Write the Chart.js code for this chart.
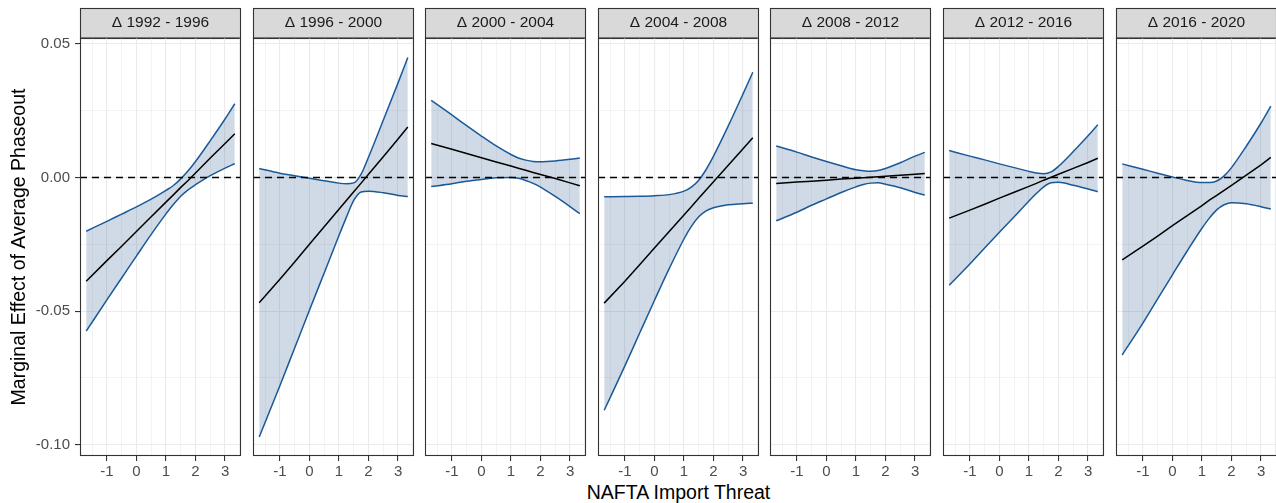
<!DOCTYPE html>
<html>
<head>
<meta charset="utf-8">
<script src="https://cdn.jsdelivr.net/npm/chart.js@4.4.1/dist/chart.umd.min.js"></script>
<style>
html,body{margin:0;padding:0;background:#ffffff;}
#wrap{position:relative;width:1276px;height:503px;overflow:hidden;background:#ffffff;}
#wrap canvas{position:absolute;top:0;}
#xtitle{position:absolute;left:478.5px;width:400px;top:481px;height:23px;line-height:23px;text-align:center;
  font-family:"Liberation Sans", Arial, Helvetica, sans-serif;font-size:19.5px;color:#000000;white-space:nowrap;}
</style>
</head>
<body>
<div id="wrap"><div id="xtitle"></div></div>
<script>
// ---------------- data ----------------
const PANEL_LABELS = ['Δ 1992 - 1996','Δ 1996 - 2000','Δ 2000 - 2004','Δ 2004 - 2008','Δ 2008 - 2012','Δ 2012 - 2016','Δ 2016 - 2020'];
const X_VALUES = [-1.70, -1, -0.5, 0, 0.5, 1, 1.25, 1.5, 1.75, 2, 2.5, 3, 3.33];

const EST_1992   = [-0.0388,-0.0311,-0.0257,-0.0202,-0.0147,-0.0092,-0.0065,-0.0037,-0.0011, 0.0017, 0.0073, 0.0127, 0.0164];
const UPPER_1992 = [-0.0201,-0.0164,-0.0137,-0.0110,-0.0081,-0.0048,-0.0030,-0.0005, 0.0025, 0.0060, 0.0138, 0.0219, 0.0276];
const LOWER_1992 = [-0.0575,-0.0458,-0.0376,-0.0294,-0.0213,-0.0136,-0.0101,-0.0070,-0.0046,-0.0027, 0.0007, 0.0035, 0.0052];

const EST_1996   = [-0.0469,-0.0381,-0.0316,-0.0250,-0.0184,-0.0119,-0.0086,-0.0053,-0.0021, 0.0012, 0.0078, 0.0144, 0.0189];
const UPPER_1996 = [ 0.0034, 0.0016, 0.0007,-0.0003,-0.0012,-0.0021,-0.0023,-0.0020, 0.0013, 0.0076, 0.0214, 0.0354, 0.0449];
const LOWER_1996 = [-0.0971,-0.0779,-0.0638,-0.0497,-0.0357,-0.0217,-0.0149,-0.0086,-0.0054,-0.0051,-0.0057,-0.0067,-0.0071];

const EST_2000   = [ 0.0127, 0.0106, 0.0090, 0.0074, 0.0058, 0.0043, 0.0035, 0.0027, 0.0019, 0.0011,-0.0004,-0.0020,-0.0031];
const UPPER_2000 = [ 0.0289, 0.0234, 0.0194, 0.0155, 0.0118, 0.0086, 0.0073, 0.0065, 0.0060, 0.0059, 0.0062, 0.0068, 0.0073];
const LOWER_2000 = [-0.0034,-0.0023,-0.0014,-0.0007,-0.0001, 0.0000,-0.0003,-0.0011,-0.0022,-0.0036,-0.0071,-0.0109,-0.0135];

const EST_2004   = [-0.0470,-0.0388,-0.0326,-0.0264,-0.0202,-0.0140,-0.0109,-0.0078,-0.0047,-0.0016, 0.0046, 0.0108, 0.0149];
const UPPER_2004 = [-0.0072,-0.0071,-0.0070,-0.0068,-0.0064,-0.0051,-0.0036,-0.0010, 0.0030, 0.0080, 0.0193, 0.0313, 0.0394];
const LOWER_2004 = [-0.0871,-0.0705,-0.0582,-0.0460,-0.0341,-0.0230,-0.0183,-0.0147,-0.0125,-0.0113,-0.0102,-0.0098,-0.0096];

const EST_2008   = [-0.0022,-0.0017,-0.0014,-0.0010,-0.0006,-0.0003,-0.0001, 0.0001, 0.0003, 0.0005, 0.0008, 0.0012, 0.0015];
const UPPER_2008 = [ 0.0118, 0.0095, 0.0077, 0.0060, 0.0044, 0.0029, 0.0025, 0.0023, 0.0026, 0.0034, 0.0055, 0.0080, 0.0094];
const LOWER_2008 = [-0.0162,-0.0130,-0.0104,-0.0080,-0.0056,-0.0035,-0.0026,-0.0021,-0.0020,-0.0025,-0.0038,-0.0056,-0.0066];

const EST_2012   = [-0.0152,-0.0122,-0.0100,-0.0077,-0.0055,-0.0033,-0.0022,-0.0010, 0.0001, 0.0012, 0.0034, 0.0056, 0.0072];
const UPPER_2012 = [ 0.0101, 0.0080, 0.0066, 0.0051, 0.0037, 0.0023, 0.0017, 0.0014, 0.0021, 0.0042, 0.0097, 0.0156, 0.0197];
const LOWER_2012 = [-0.0403,-0.0324,-0.0264,-0.0205,-0.0147,-0.0088,-0.0060,-0.0035,-0.0020,-0.0018,-0.0029,-0.0043,-0.0053];

const EST_2016   = [-0.0308,-0.0257,-0.0219,-0.0180,-0.0143,-0.0105,-0.0085,-0.0067,-0.0048,-0.0029, 0.0009, 0.0047, 0.0075];
const UPPER_2016 = [ 0.0051, 0.0031, 0.0016, 0.0002,-0.0011,-0.0019,-0.0019,-0.0013, 0.0006, 0.0037, 0.0117, 0.0204, 0.0267];
const LOWER_2016 = [-0.0664,-0.0545,-0.0454,-0.0364,-0.0275,-0.0190,-0.0152,-0.0121,-0.0102,-0.0094,-0.0098,-0.0109,-0.0118];

const X_MAJOR_TICKS = [-1, 0, 1, 2, 3];
const X_MINOR_TICKS = [-1.5, -0.5, 0.5, 1.5, 2.5, 3.5];
const Y_MAJOR_TICKS = [-0.10, -0.05, 0.00, 0.05];
const Y_MINOR_TICKS = [-0.075, -0.025, 0.025];
const X_LIMITS = [-1.91, 3.54];
const Y_LIMITS = [-0.1042, 0.0522];
const ZERO_LINE = [0, 0];

const X_TITLE = 'NAFTA Import Threat';
const Y_TITLE = 'Marginal Effect of Average Phaseout';

const PANELS = [
  [EST_1992, UPPER_1992, LOWER_1992],
  [EST_1996, UPPER_1996, LOWER_1996],
  [EST_2000, UPPER_2000, LOWER_2000],
  [EST_2004, UPPER_2004, LOWER_2004],
  [EST_2008, UPPER_2008, LOWER_2008],
  [EST_2012, UPPER_2012, LOWER_2012],
  [EST_2016, UPPER_2016, LOWER_2016]
];

// ---------------- styling / layout ----------------
const FONT = '"Liberation Sans", Arial, Helvetica, sans-serif';
Chart.defaults.font.family = FONT;
const CI_COLOR = '#1B5A98';
const FILL_COLOR = 'rgba(30, 80, 135, 0.21)';
const GRID_COLOR = '#EBEBEB';
const FRAME_COLOR = '#333333';
const TICK_TEXT = '#4D4D4D';

const FIRST_LEFT = 80, PITCH = 172.6, PANEL_W = 161, Y_AXIS_W = 80, SIDE_PAD = 6, CANVAS_H = 503;
const X_AXIS_H = 47, STRIP_TOP = 8;

document.getElementById('xtitle').textContent = X_TITLE;

const pts = (xs, ys) => xs.map((x, i) => ({x: x, y: ys[i]}));
const sortedTicks = (a, b) => a.concat(b).slice().sort((p, q) => p - q).map(v => ({value: v}));

const facetPlugin = {
  id: 'facetFrame',
  beforeDraw(chart) {
    const ca = chart.chartArea, ctx = chart.ctx;
    ctx.save();
    ctx.fillStyle = '#D9D9D9';
    ctx.fillRect(ca.left, STRIP_TOP, ca.right - ca.left, ca.top - STRIP_TOP);
    ctx.strokeStyle = FRAME_COLOR;
    ctx.lineWidth = 1.1;
    ctx.strokeRect(ca.left + 0.5, STRIP_TOP + 0.5, ca.right - ca.left - 1, ca.top - STRIP_TOP);
    ctx.restore();
  },
  afterDraw(chart) {
    const ca = chart.chartArea, ctx = chart.ctx;
    ctx.save();
    ctx.strokeStyle = FRAME_COLOR;
    ctx.lineWidth = 1.1;
    ctx.strokeRect(ca.left + 0.5, ca.top, ca.right - ca.left - 1, ca.bottom - ca.top - 0.5);
    ctx.restore();
  }
};

const wrap = document.getElementById('wrap');

PANELS.forEach((series, k) => {
  const [est, upper, lower] = series;
  const isFirst = k === 0;
  const left = Math.round(FIRST_LEFT + PITCH * k);
  const canvasLeft = isFirst ? 0 : left - SIDE_PAD;
  const padLeft = isFirst ? 0 : SIDE_PAD;
  const cw = left + PANEL_W + SIDE_PAD - canvasLeft;
  const cv = document.createElement('canvas');
  cv.width = cw; cv.height = CANVAS_H;
  cv.style.left = canvasLeft + 'px';
  cv.style.width = cw + 'px'; cv.style.height = CANVAS_H + 'px';
  wrap.appendChild(cv);

  new Chart(cv.getContext('2d'), {
    type: 'line',
    data: {
      datasets: [
        {label: 'upper', data: pts(X_VALUES, upper), borderColor: CI_COLOR, borderWidth: 1.5,
         backgroundColor: FILL_COLOR, fill: '+1', pointRadius: 0, cubicInterpolationMode: 'monotone', order: 3},
        {label: 'lower', data: pts(X_VALUES, lower), borderColor: CI_COLOR, borderWidth: 1.5,
         fill: false, pointRadius: 0, cubicInterpolationMode: 'monotone', order: 3},
        {label: 'zero', data: pts(X_LIMITS, ZERO_LINE), borderColor: '#000000', borderWidth: 1.4,
         borderDash: [7, 5], fill: false, pointRadius: 0, order: 2},
        {label: 'estimate', data: pts(X_VALUES, est), borderColor: '#000000', borderWidth: 1.5,
         fill: false, pointRadius: 0, order: 1}
      ]
    },
    options: {
      responsive: false, animation: false, devicePixelRatio: 1,
      events: [],
      layout: {padding: {left: padLeft, right: SIDE_PAD, top: 0, bottom: 0}},
      plugins: {
        legend: {display: false},
        tooltip: {enabled: false},
        title: {display: true, text: PANEL_LABELS[k], fullSize: false, color: '#1A1A1A',
                font: {size: 15.5, weight: 'normal', family: FONT}, padding: {top: 13.4, bottom: 6}}
      },
      scales: {
        x: {
          type: 'linear', min: X_LIMITS[0], max: X_LIMITS[1],
          afterBuildTicks: s => { s.ticks = sortedTicks(X_MAJOR_TICKS, X_MINOR_TICKS); },
          afterFit: s => { s.height = X_AXIS_H; },
          ticks: {autoSkip: false, maxRotation: 0, minRotation: 0, padding: 2, color: TICK_TEXT,
                  font: {size: 15, family: FONT},
                  callback: v => X_MAJOR_TICKS.includes(v) ? String(v) : ''},
          grid: {
            color: GRID_COLOR,
            lineWidth: c => (c.tick && X_MAJOR_TICKS.includes(c.tick.value)) ? 1.1 : 0.6,
            tickLength: 5,
            tickWidth: 1.1,
            tickColor: c => (c.tick && X_MAJOR_TICKS.includes(c.tick.value)) ? FRAME_COLOR : 'rgba(0,0,0,0)'
          },
          border: {display: false},
          title: {display: false}
        },
        y: {
          type: 'linear', min: Y_LIMITS[0], max: Y_LIMITS[1],
          afterBuildTicks: s => { s.ticks = sortedTicks(Y_MAJOR_TICKS, Y_MINOR_TICKS); },
          afterFit: s => { s.width = isFirst ? Y_AXIS_W : 0; },
          ticks: {display: isFirst, autoSkip: false, padding: 5, color: TICK_TEXT,
                  font: {size: 15, family: FONT},
                  callback: v => Y_MAJOR_TICKS.includes(v) ? v.toFixed(2) : ''},
          grid: {
            color: GRID_COLOR,
            lineWidth: c => (c.tick && Y_MAJOR_TICKS.includes(c.tick.value)) ? 1.1 : 0.6,
            drawTicks: isFirst,
            tickLength: 5,
            tickWidth: 1.1,
            tickColor: c => (c.tick && Y_MAJOR_TICKS.includes(c.tick.value)) ? FRAME_COLOR : 'rgba(0,0,0,0)'
          },
          border: {display: false},
          title: {display: isFirst, text: Y_TITLE, color: '#000000', font: {size: 19.5, family: FONT},
                  padding: {top: 7.5, bottom: 0}}
        }
      }
    },
    plugins: [facetPlugin]
  });
});
</script>
</body>
</html>
